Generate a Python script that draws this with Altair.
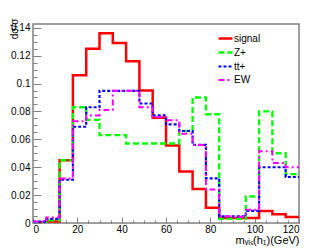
import altair as alt
import pandas as pd

bin_edges = [0, 6, 12, 18, 24, 30, 36, 42, 48, 54, 60, 66, 72, 78, 84, 90, 96, 102, 108, 114, 120]
signal = [0.0005, 0.001, 0.045, 0.106, 0.125, 0.136, 0.129, 0.116, 0.095, 0.0755,
          0.0556, 0.037, 0.0243, 0.011, 0.0035, 0.0035, 0.0036, 0.0086, 0.0062, 0.0043]
zplus = [0.0, 0.002, 0.045, 0.083, 0.074, 0.063, 0.063, 0.057, 0.057, 0.057,
         0.057, 0.066, 0.090, 0.078, 0.003, 0.003, 0.019, 0.080, 0.050, 0.035]
ttplus = [0.001, 0.003, 0.031, 0.069, 0.083, 0.0948, 0.0948, 0.0948, 0.0857, 0.0772,
          0.0707, 0.066, 0.056, 0.032, 0.0048, 0.0048, 0.0087, 0.040, 0.040, 0.033]
ew = [0.001, 0.004, 0.032, 0.073, 0.077, 0.081, 0.0948, 0.0948, 0.083, 0.076,
      0.0736, 0.064, 0.056, 0.024, 0.0048, 0.0045, 0.0095, 0.0515, 0.043, 0.040]

series_names = ["signal", "Z+", "tt+", "EW"]
colors = ["#ff0000", "#00ff00", "#0000ff", "#ff00ff"]
dashes = [[1, 0], [6, 3], [3, 2], [6, 3, 2, 3]]
widths = [2.5, 2, 2, 2]

x_major = [0, 20, 40, 60, 80, 100, 120]
x_minor = [5, 10, 15, 25, 30, 35, 45, 50, 55, 65, 70, 75, 85, 90, 95, 105, 110, 115]
y_major = [0, 0.02, 0.04, 0.06, 0.08, 0.1, 0.12, 0.14]
y_minor = [0.005, 0.01, 0.015, 0.025, 0.03, 0.035, 0.045, 0.05, 0.055, 0.065, 0.07, 0.075,
           0.085, 0.09, 0.095, 0.105, 0.11, 0.115, 0.125, 0.13, 0.135, 0.14]

rows = []
for name, vals in zip(series_names, [signal, zplus, ttplus, ew]):
    ext = vals + [vals[-1]]
    for x, v in zip(bin_edges, ext):
        rows.append({"series": name, "x": x, "y": v})
df = pd.DataFrame(rows)

FONT = "Liberation Sans"
FRAME = "#808080"
xscale = alt.Scale(domain=[0, 120], nice=False, zero=False)
yscale = alt.Scale(domain=[0, 0.1427], nice=False)

lines = alt.Chart(df).mark_line(interpolate="step-after", clip=True).encode(
    x=alt.X("x:Q", scale=xscale,
            axis=alt.Axis(values=x_major, title="mᵥᵢₛ(h₁)(GeV)", ticks=False, domain=False,
                          grid=False, labelPadding=1, labelFontSize=10, labelFont=FONT,
                          labelColor="black", titleFont=FONT, titleFontSize=11,
                          titleFontWeight="normal", titleColor="black",
                          titleAlign="right", titleAnchor="end", titleX=266, titleY=20,
                          titleBaseline="alphabetic")),
    y=alt.Y("y:Q", scale=yscale,
            axis=alt.Axis(values=y_major, format="~g", title="dσ/σ", ticks=False, domain=False,
                          grid=False, labelPadding=3, labelFontSize=10, labelFont=FONT,
                          labelColor="black", titleFont=FONT, titleFontSize=10,
                          titleFontWeight="normal", titleColor="black",
                          titleAngle=270, titleAlign="right", titleAnchor="end",
                          titleX=-16, titleY=-6, titleBaseline="alphabetic")),
    color=alt.Color("series:N", scale=alt.Scale(domain=series_names, range=colors),
                    legend=alt.Legend(title=None)),
    strokeDash=alt.StrokeDash("series:N", scale=alt.Scale(domain=series_names, range=dashes),
                              legend=alt.Legend(title=None)),
    strokeWidth=alt.StrokeWidth("series:N", scale=alt.Scale(domain=series_names, range=widths),
                                legend=None),
)


def tick_layer(xvals, yvals, xlen, ylen):
    return alt.Chart(df).mark_point(opacity=0).encode(
        x=alt.X("x:Q", scale=xscale,
                axis=alt.Axis(orient="bottom", values=xvals, offset=-xlen, tickSize=xlen,
                              labels=False, domain=False, grid=False, title=None,
                              tickColor=FRAME, tickWidth=1)),
        y=alt.Y("y:Q", scale=yscale,
                axis=alt.Axis(orient="left", values=yvals, offset=-ylen, tickSize=ylen,
                              labels=False, domain=False, grid=False, title=None,
                              tickColor=FRAME, tickWidth=1)),
    )


chart = alt.layer(
    lines,
    tick_layer(x_major, y_major, 6, 8),
    tick_layer(x_minor, y_minor, 3, 4),
).resolve_axis(x="independent", y="independent").properties(
    width=266, height=199, autosize="none",
    padding={"left": 25, "top": 16, "right": 25, "bottom": 23},
).configure_view(
    stroke=FRAME, strokeWidth=1.5
).configure_legend(
    orient="none", legendX=184, legendY=6, padding=0, symbolType="stroke",
    symbolSize=196, symbolStrokeWidth=2, labelFontSize=10, labelFont=FONT,
    labelColor="black", labelOffset=0, rowPadding=0
)

chart.save("out.html", embed_options={"renderer": "svg", "actions": False})
